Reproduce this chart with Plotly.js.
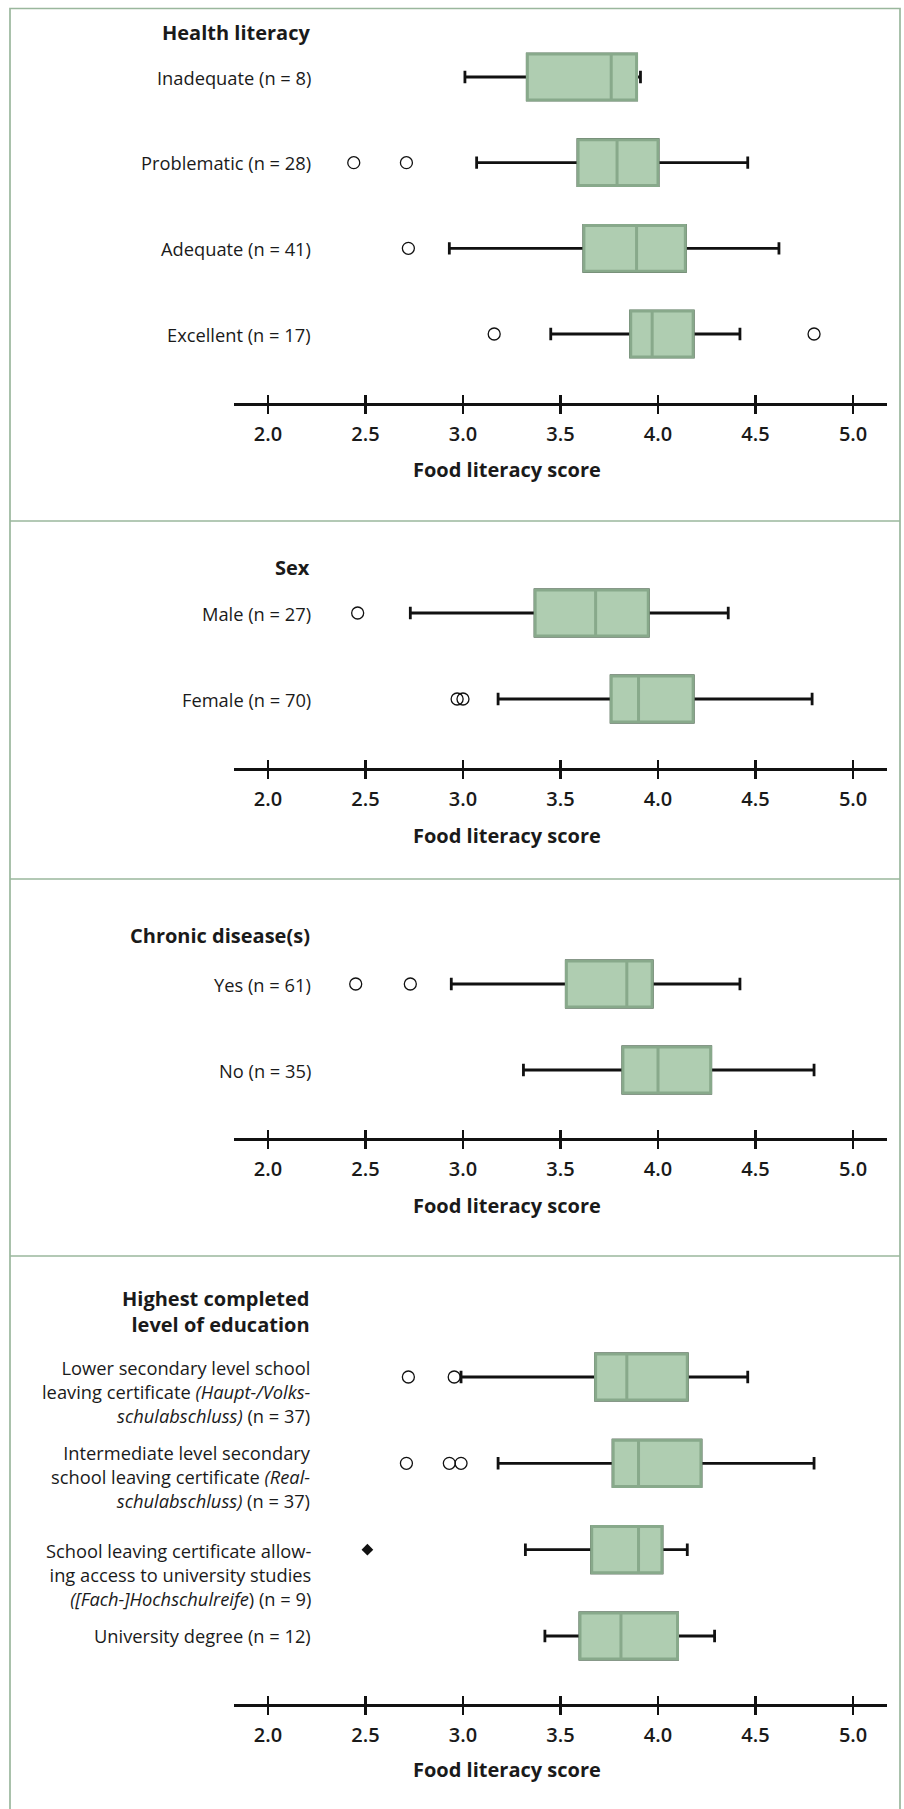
<!DOCTYPE html>
<html><head><meta charset="utf-8">
<script src="https://cdn.plot.ly/plotly-3.0.1.min.js"></script>
<style>html,body{margin:0;padding:0;background:#fff}#chart{width:904px;height:1809px}</style>
</head><body><div id="chart"></div>
<script>
// ---------------- DATA ----------------
const xTitle = 'Food literacy score';

const hlTitle = 'Health literacy';
const hlCats = ['Inadequate (n = 8)', 'Problematic (n = 28)', 'Adequate (n = 41)', 'Excellent (n = 17)'];
const hlLower = [3.01, 3.07, 2.93, 3.45];
const hlQ1    = [3.33, 3.59, 3.62, 3.86];
const hlMed   = [3.76, 3.79, 3.89, 3.97];
const hlQ3    = [3.89, 4.00, 4.14, 4.18];
const hlUpper = [3.91, 4.46, 4.62, 4.42];
const hlOutX  = [2.44, 2.71, 2.72, 3.16, 4.80];
const hlOutY  = [hlCats[1], hlCats[1], hlCats[2], hlCats[3], hlCats[3]];

const sexTitle = 'Sex';
const sexCats = ['Male (n = 27)', 'Female (n = 70)'];
const sexLower = [2.73, 3.18];
const sexQ1    = [3.37, 3.76];
const sexMed   = [3.68, 3.90];
const sexQ3    = [3.95, 4.18];
const sexUpper = [4.36, 4.79];
const sexOutX  = [2.46, 2.97, 3.00];
const sexOutY  = [sexCats[0], sexCats[1], sexCats[1]];

const cdTitle = 'Chronic disease(s)';
const cdCats = ['Yes (n = 61)', 'No (n = 35)'];
const cdLower = [2.94, 3.31];
const cdQ1    = [3.53, 3.82];
const cdMed   = [3.84, 4.00];
const cdQ3    = [3.97, 4.27];
const cdUpper = [4.42, 4.80];
const cdOutX  = [2.45, 2.73];
const cdOutY  = [cdCats[0], cdCats[0]];

const eduTitle = 'Highest completed<br>level of education';
const eduCats = [
  'Lower secondary level school<br>leaving certificate <i>(Haupt-/Volks-</i><br><i>schulabschluss)</i> (n = 37)',
  'Intermediate level secondary<br>school leaving certificate <i>(Real-</i><br><i>schulabschluss)</i> (n = 37)',
  'School leaving certificate allow-<br>ing access to university studies<br><i>([Fach-]Hochschulreife</i>) (n = 9)',
  'University degree (n = 12)'
];
const eduLower = [2.99, 3.18, 3.32, 3.42];
const eduQ1    = [3.68, 3.77, 3.66, 3.60];
const eduMed   = [3.84, 3.90, 3.90, 3.81];
const eduQ3    = [4.15, 4.22, 4.02, 4.10];
const eduUpper = [4.46, 4.80, 4.15, 4.29];
const eduOutX  = [2.72, 2.955, 2.71, 2.93, 2.99];
const eduOutY  = [eduCats[0], eduCats[0], eduCats[1], eduCats[1], eduCats[1]];
const eduExtX  = [2.51];
const eduExtY  = [eduCats[2]];

const xTickVals = [2.0, 2.5, 3.0, 3.5, 4.0, 4.5, 5.0];

// ---------------- LAYOUT / STYLE ----------------
const W = 904, H = 1809;
const px = v => v / W;
const py = v => 1 - v / H;
const FONT = 'Open Sans';
const INK = '#1a1a1a';
const BOX_FILL = '#afcdb1';
const BOX_LINE = '#88a98b';
const FRAME = '#9ab79d';
const xRange = [1.826, 5.174];
const xDomain = [px(234), px(887)];
const LABEL_X = px(313);
const TITLE_X = px(312);
const AXTITLE_X = px(507);

const panels = [
  {title: hlTitle, cats: hlCats, lo: hlLower, q1: hlQ1, med: hlMed, q3: hlQ3, hi: hlUpper,
   outX: hlOutX, outY: hlOutY, top: 40, bottom: 403, first: 77, step: 85.67,
   titleY: 32, axTitleY: 469, shifts: [0,0,0,0]},
  {title: sexTitle, cats: sexCats, lo: sexLower, q1: sexQ1, med: sexMed, q3: sexQ3, hi: sexUpper,
   outX: sexOutX, outY: sexOutY, top: 580, bottom: 768, first: 613, step: 86,
   titleY: 567, axTitleY: 835, shifts: [0,0]},
  {title: cdTitle, cats: cdCats, lo: cdLower, q1: cdQ1, med: cdMed, q3: cdQ3, hi: cdUpper,
   outX: cdOutX, outY: cdOutY, top: 950, bottom: 1138, first: 984, step: 86,
   titleY: 935, axTitleY: 1205, shifts: [0,0]},
  {title: eduTitle, cats: eduCats, lo: eduLower, q1: eduQ1, med: eduMed, q3: eduQ3, hi: eduUpper,
   outX: eduOutX, outY: eduOutY, extX: eduExtX, extY: eduExtY, top: 1345, bottom: 1704, first: 1377, step: 86.33,
   titleY: 1311, axTitleY: 1769, shifts: [-14, -13, -25, 0]}
];

const traces = [];
const layout = {
  width: W, height: H,
  margin: {l: 0, r: 0, t: 0, b: 0},
  paper_bgcolor: '#ffffff', plot_bgcolor: 'rgba(0,0,0,0)',
  showlegend: false,
  boxmode: 'overlay',
  font: {family: FONT, color: INK, size: 18},
  annotations: [],
  shapes: []
};

panels.forEach((p, i) => {
  const n = i + 1;
  const xa = n === 1 ? 'x' : 'x' + n;
  const ya = n === 1 ? 'y' : 'y' + n;
  const xo = 'x' + (n + 4);
  const nc = p.cats.length;
  const rngTop = -(p.first - p.top) / p.step;
  const rngBot = (nc - 1) + (p.bottom - (p.first + (nc - 1) * p.step)) / p.step;

  layout[n === 1 ? 'yaxis' : 'yaxis' + n] = {
    domain: [py(p.bottom), py(p.top)], anchor: xa, type: 'category',
    categoryorder: 'array', categoryarray: p.cats, range: [rngBot, rngTop],
    visible: false, fixedrange: true
  };
  layout[n === 1 ? 'xaxis' : 'xaxis' + n] = {
    domain: xDomain, anchor: ya, range: xRange, tickvals: xTickVals, tickformat: '.1f',
    ticks: 'outside', ticklen: 8, tickwidth: 2.5, tickcolor: '#111',
    showline: true, linewidth: 3, linecolor: '#111', showgrid: false, zeroline: false,
    tickfont: {family: FONT, size: 20, weight: 600, color: INK}, ticklabelstandoff: 3,
    fixedrange: true
  };
  layout['xaxis' + (n + 4)] = {
    overlaying: xa, anchor: ya, side: 'bottom', range: xRange, tickvals: xTickVals,
    ticks: 'inside', ticklen: 8, tickwidth: 2.5, tickcolor: '#111',
    showticklabels: false, showline: false, showgrid: false, zeroline: false, fixedrange: true
  };

  // whiskers (black)
  traces.push({
    type: 'box', orientation: 'h', xaxis: xa, yaxis: ya, y: p.cats,
    q1: p.q1, median: p.med, q3: p.q3, lowerfence: p.lo, upperfence: p.hi,
    width: 0.535, whiskerwidth: 0.27, boxpoints: false,
    fillcolor: 'rgba(0,0,0,0)', line: {color: '#111', width: 2.8}, hoverinfo: 'skip'
  });
  // boxes (green)
  traces.push({
    type: 'box', orientation: 'h', xaxis: xa, yaxis: ya, y: p.cats,
    q1: p.q1, median: p.med, q3: p.q3, lowerfence: p.q1, upperfence: p.q3,
    width: 0.535, whiskerwidth: 0, boxpoints: false,
    fillcolor: BOX_FILL, line: {color: BOX_LINE, width: 3}, hoverinfo: 'skip'
  });
  // outliers
  traces.push({
    type: 'scatter', mode: 'markers', xaxis: xa, yaxis: ya, x: p.outX, y: p.outY,
    marker: {symbol: 'circle-open', size: 12, color: '#111', line: {width: 1.3, color: '#111'}},
    hoverinfo: 'skip'
  });
  if (p.extX) {
    traces.push({
      type: 'scatter', mode: 'markers', xaxis: xa, yaxis: ya, x: p.extX, y: p.extY,
      marker: {symbol: 'diamond', size: 9, color: '#111'}, hoverinfo: 'skip'
    });
  }
  // invisible trace to register overlay axis
  traces.push({type: 'scatter', mode: 'none', xaxis: xo, yaxis: ya, x: [xRange[0]], y: [p.cats[0]], hoverinfo: 'skip'});

  // panel title
  layout.annotations.push({
    text: '<b>' + p.title.replace('<br>', '</b><br><b>') + '</b>', xref: 'paper', yref: 'paper',
    x: TITLE_X, y: py(p.titleY), xanchor: 'right', yanchor: 'middle', align: 'right',
    showarrow: false, font: {family: FONT, size: 20, color: INK}
  });
  // category labels
  p.cats.forEach((c, k) => {
    layout.annotations.push({
      text: c, xref: 'paper', yref: ya, x: LABEL_X, y: k, yshift: p.shifts[k],
      xanchor: 'right', yanchor: 'middle', align: 'right', showarrow: false,
      font: {family: FONT, size: 18.3, color: INK}
    });
  });
  // axis title
  layout.annotations.push({
    text: '<b>' + xTitle + '</b>', xref: 'paper', yref: 'paper',
    x: AXTITLE_X, y: py(p.axTitleY), xanchor: 'center', yanchor: 'middle',
    showarrow: false, font: {family: FONT, size: 20, color: INK}
  });
});

// frame and separators
layout.shapes.push({type: 'rect', xref: 'paper', yref: 'paper', x0: px(10), x1: px(900), y0: py(8.5), y1: py(1815),
  line: {color: FRAME, width: 1.7}, fillcolor: 'rgba(0,0,0,0)', layer: 'below'});
[521, 879, 1256].forEach(v => layout.shapes.push({type: 'line', xref: 'paper', yref: 'paper',
  x0: px(10), x1: px(900), y0: py(v), y1: py(v), line: {color: FRAME, width: 1.7}, layer: 'below'}));

Plotly.newPlot('chart', traces, layout, {staticPlot: true, displayModeBar: false});
</script></body></html>
